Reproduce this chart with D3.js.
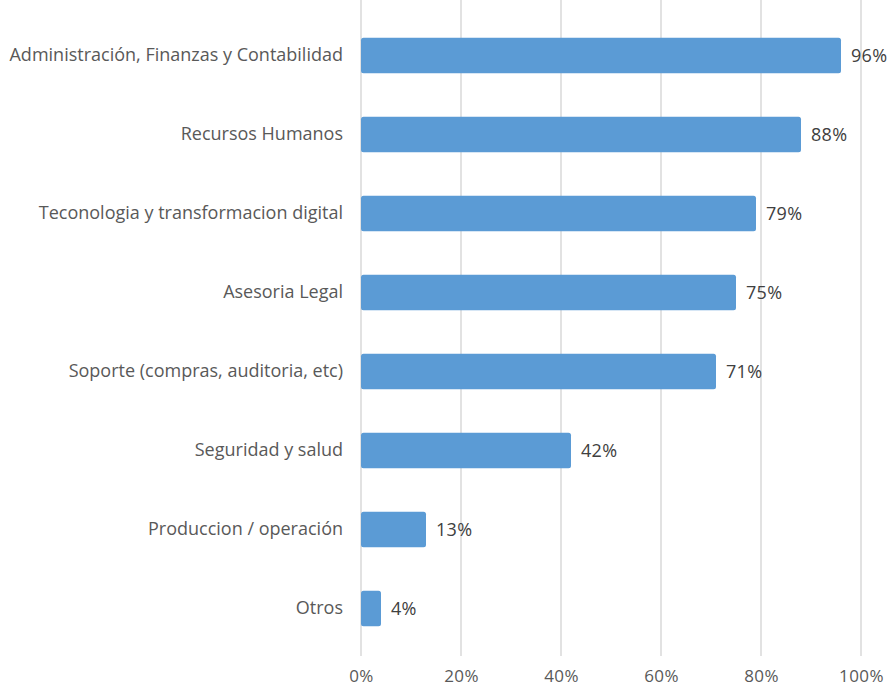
<!DOCTYPE html>
<html>
<head>
<meta charset="utf-8">
<script src="https://cdn.jsdelivr.net/npm/d3@7"></script>
<style>
  html, body { margin: 0; padding: 0; background: #fff; }
  svg { display: block; }
  text { font-family: "Open Sans", Lato, sans-serif; }
</style>
</head>
<body>
<svg id="chart" width="896" height="687"></svg>
<script>
const categories = [
  "Administración, Finanzas y Contabilidad",
  "Recursos Humanos",
  "Teconologia y transformacion digital",
  "Asesoria Legal",
  "Soporte (compras, auditoria, etc)",
  "Seguridad y salud",
  "Produccion / operación",
  "Otros"
];
const values = [96, 88, 79, 75, 71, 42, 13, 4];
const tickValues = [0, 20, 40, 60, 80, 100];

const svg = d3.select("#chart");
const plotLeft = 361, plotRight = 861, plotTop = 16, plotBottom = 648;
const fontStack = "'Open Sans', Lato, sans-serif";

const x = d3.scaleLinear().domain([0, 100]).range([plotLeft, plotRight]);
const y = d3.scaleBand().domain(categories).range([plotTop, plotBottom]).paddingInner(0.55).paddingOuter(0.275);

// vertical gridlines
svg.append("g").selectAll("line").data(tickValues).join("line")
  .attr("x1", d => x(d)).attr("x2", d => x(d))
  .attr("y1", 0).attr("y2", 656)
  .attr("stroke", "#d9d9d9").attr("stroke-width", 1.5);

// x axis tick labels
const xAxis = d3.axisBottom(x).tickValues(tickValues).tickFormat(d => d + "%").tickSize(0).tickPadding(0);
const gx = svg.append("g").attr("transform", "translate(0,682)").call(xAxis);
gx.select(".domain").remove();
gx.selectAll("text").attr("font-size", 17).attr("fill", "#595959").attr("dy", 0)
  .style("font-family", fontStack).style("letter-spacing", "0.4px");

// category labels
const yAxis = d3.axisLeft(y).tickSize(0).tickPadding(18);
const gy = svg.append("g").attr("transform", `translate(${plotLeft},0)`).call(yAxis);
gy.select(".domain").remove();
gy.selectAll("text").attr("font-size", 18).attr("fill", "#595959")
  .style("font-family", fontStack);

// bars
const data = categories.map((c, i) => ({ c, v: values[i] }));
svg.append("g").selectAll("rect").data(data).join("rect")
  .attr("x", x(0))
  .attr("y", d => y(d.c))
  .attr("width", d => x(d.v) - x(0))
  .attr("height", y.bandwidth())
  .attr("rx", 2.5)
  .attr("fill", "#5b9bd5");

// value labels
svg.append("g").selectAll("text").data(data).join("text")
  .attr("x", d => x(d.v) + 10)
  .attr("y", d => y(d.c) + y.bandwidth() / 2)
  .attr("dy", "0.36em")
  .attr("font-size", 18)
  .attr("fill", "#404040")
  .style("letter-spacing", "0.3px")
  .text(d => d.v + "%");
</script>
</body>
</html>
